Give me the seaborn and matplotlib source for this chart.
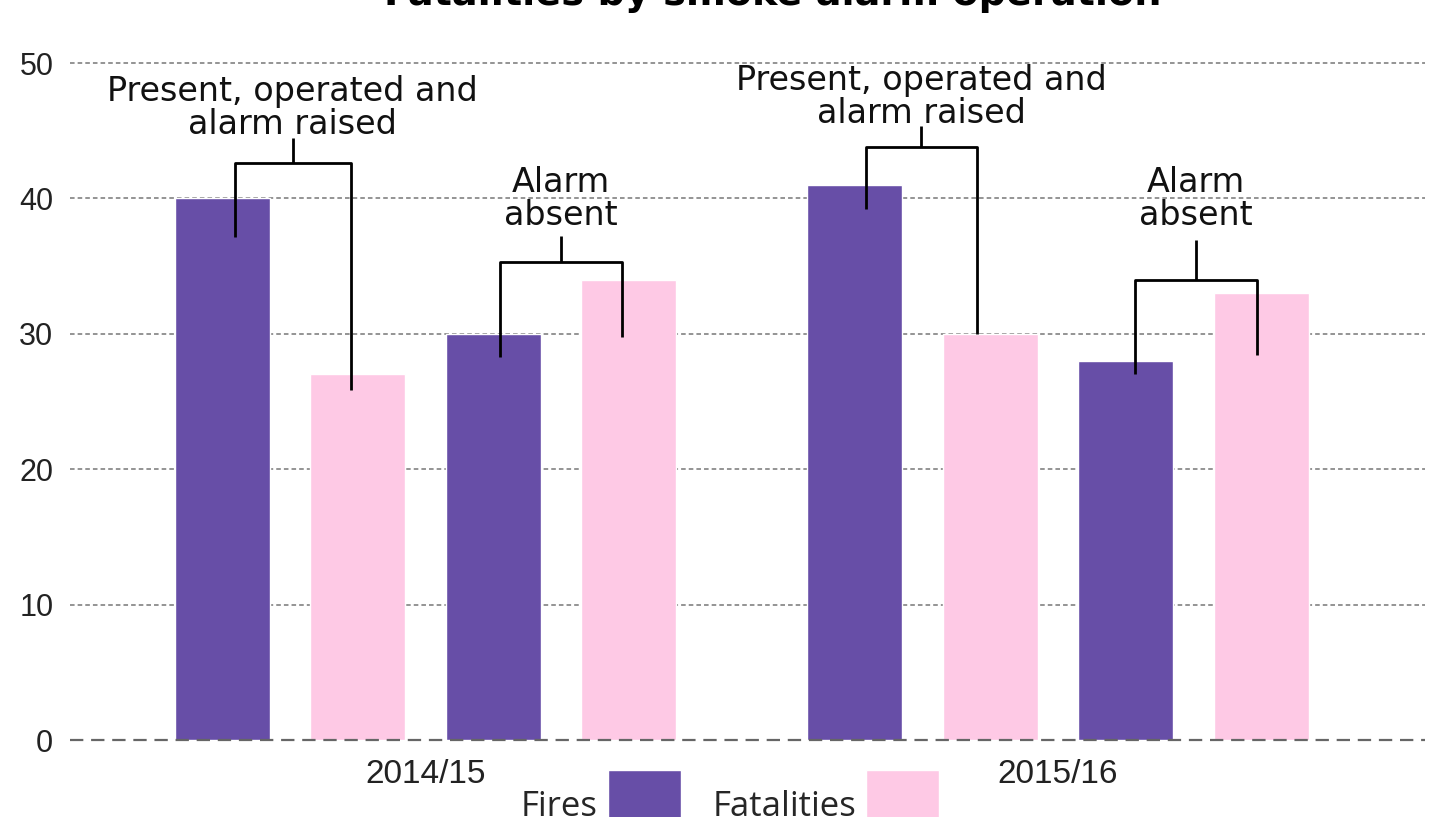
"""Fires and fatalities by smoke alarm operation, grouped bars with bracket labels."""

import matplotlib

matplotlib.use("Agg")
import matplotlib.pyplot as plt
import pandas as pd
import seaborn as sns
from matplotlib import font_manager
from matplotlib.patches import Patch

YEARS = ["2014/15", "2015/16"]
STATUSES = ["Present, operated and\nalarm raised", "Alarm\nabsent"]
MEASURES = ["Fires", "Fatalities"]

# values per year, ordered: present-fires, present-fatalities, absent-fires, absent-fatalities
VALUES_2014 = [40, 27, 30, 34]
VALUES_2015 = [41, 30, 28, 33]

TITLE = "Fatalities by smoke alarm operation"

PURPLE = "#674ea7"
PINK = "#fec9e5"

# bracket layout per (year, status): label baseline, horizontal bar, stem top, leg ends, leg nudges
BRACKETS = [
    {"year": 0, "status": 0, "text": 44.83, "bar": 42.6, "stem": 44.5, "ends": (37.15, 25.85), "nudge": (0.02, -0.011)},
    {"year": 0, "status": 1, "text": 38.1, "bar": 35.3, "stem": 37.2, "ends": (28.3, 29.8), "nudge": (0.01, -0.01)},
    {"year": 1, "status": 0, "text": 45.64, "bar": 43.8, "stem": 45.35, "ends": (39.2, 30.0), "nudge": (0.017, -0.021)},
    {"year": 1, "status": 1, "text": 38.1, "bar": 34.0, "stem": 36.9, "ends": (27.0, 28.4), "nudge": (0.015, -0.007)},
]

LABEL_FONT = ["DejaVu Sans"]
LEGEND_FONT = ["Open Sans", "DejaVu Sans"]

installed = {f.name for f in font_manager.fontManager.ttflist}
if "Liberation Sans Narrow" in installed:
    TICK_FONT = ["Liberation Sans Narrow", "DejaVu Sans"]
    YTICK_SIZE, XTICK_SIZE = 27, 28
else:
    TICK_FONT = ["Liberation Sans", "DejaVu Sans"]
    YTICK_SIZE, XTICK_SIZE = 22, 24


def build_frame() -> pd.DataFrame:
    rows = []
    for year, values in zip(YEARS, [VALUES_2014, VALUES_2015]):
        i = 0
        for s_idx, _ in enumerate(STATUSES):
            for measure in MEASURES:
                rows.append({"year": year, "slot": f"{s_idx}|{measure}", "value": values[i]})
                i += 1
    return pd.DataFrame(rows)


def main() -> None:
    sns.set_theme(style="white")
    plt.rcParams["font.family"] = TICK_FONT

    df = build_frame()
    hue_order = [f"{s}|{m}" for s in range(len(STATUSES)) for m in MEASURES]
    palette = {h: (PURPLE if h.endswith("Fires") else PINK) for h in hue_order}

    fig = plt.figure(figsize=(14.31, 8.17), dpi=100)
    ax = fig.add_axes([70 / 1431, 1 - 740 / 817, 1355 / 1431, 690.5 / 817])

    sns.barplot(
        data=df,
        x="year",
        y="value",
        hue="slot",
        hue_order=hue_order,
        palette=palette,
        width=0.857,
        gap=0.3,
        saturation=1,
        legend=False,
        ax=ax,
    )

    ax.set_xlim(-0.562, 1.58)
    ax.set_ylim(0, 51)
    ax.set_yticks(range(0, 51, 10))
    ax.set_xlabel("")
    ax.set_ylabel("")
    for spine in ax.spines.values():
        spine.set_visible(False)

    ax.set_axisbelow(True)
    for y in range(10, 51, 10):
        ax.axhline(y, color="#777777", lw=1.1, ls=(0, (3, 2)), zorder=0)
    ax.axhline(0, color="#666666", lw=1.6, ls=(0, (6, 3.5)), zorder=5, clip_on=False)

    ax.tick_params(axis="y", length=0, pad=12, labelsize=YTICK_SIZE, labelcolor="#222222")
    ax.tick_params(axis="x", length=0, pad=14, labelsize=XTICK_SIZE, labelcolor="#222222")

    # bracket annotations, anchored on the drawn bars
    label_size = 24
    for b in BRACKETS:
        left_bar = ax.containers[b["status"] * 2][b["year"]]
        right_bar = ax.containers[b["status"] * 2 + 1][b["year"]]
        xl = left_bar.get_x() + left_bar.get_width() / 2 + b["nudge"][0]
        xr = right_bar.get_x() + right_bar.get_width() / 2 + b["nudge"][1]
        xm = (xl + xr) / 2
        kw = dict(color="black", lw=2, solid_capstyle="butt", zorder=6, clip_on=False)
        ax.plot([xl, xl, xr, xr], [b["ends"][0], b["bar"], b["bar"], b["ends"][1]], **kw)
        ax.plot([xm, xm], [b["bar"], b["stem"]], **kw)
        ax.annotate(
            STATUSES[b["status"]],
            xy=(xm, b["text"]),
            xytext=(0, -0.236 * label_size),
            textcoords="offset points",
            ha="center",
            va="bottom",
            fontsize=label_size,
            linespacing=1.0,
            family=LABEL_FONT,
            color="#111111",
            zorder=7,
            annotation_clip=False,
        )

    # title sits mostly above the canvas, as in the source crop
    fig.text(
        773 / 1431,
        1 - 5 / 817,
        TITLE,
        ha="center",
        va="baseline",
        fontsize=27.5,
        fontweight="bold",
        family=LABEL_FONT,
        color="black",
    )

    handles = [Patch(facecolor=PURPLE), Patch(facecolor=PINK)]
    fig.legend(
        handles,
        MEASURES,
        loc="lower center",
        bbox_to_anchor=(730 / 1431, 1 - 842 / 817),
        ncol=2,
        frameon=False,
        markerfirst=False,
        borderpad=0,
        borderaxespad=0,
        handlelength=2.1,
        handleheight=2.8,
        handletextpad=0.3,
        columnspacing=0.9,
        prop={"family": LEGEND_FONT, "size": 25},
    )

    fig.savefig("out.png", dpi=100)
    plt.close(fig)


if __name__ == "__main__":
    main()
